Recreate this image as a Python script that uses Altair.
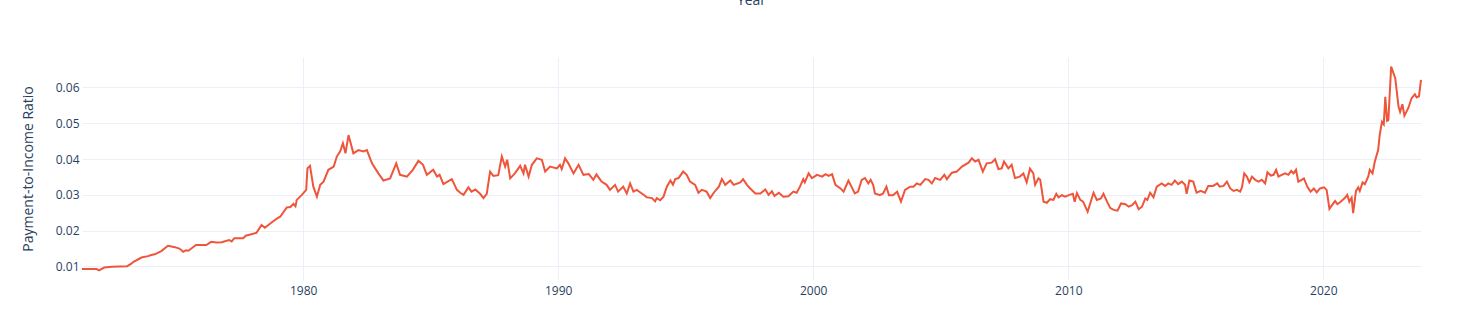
import altair as alt
import pandas as pd

years = [
    1971.33, 1971.6, 1971.9, 1972.0, 1972.2, 1972.5, 1972.8, 1973.1, 1973.25, 1973.35,
    1973.66, 1973.92, 1974.05, 1974.18, 1974.44, 1974.7, 1974.97, 1975.15, 1975.3, 1975.4,
    1975.5, 1975.8, 1976.2, 1976.4, 1976.6, 1976.8, 1977.1, 1977.2, 1977.3, 1977.65,
    1977.75, 1978.17, 1978.37, 1978.5, 1978.8,
    1979.0, 1979.1, 1979.36, 1979.5, 1979.62, 1979.7, 1979.75, 1979.95, 1980.12, 1980.17,
    1980.27, 1980.4, 1980.54, 1980.67, 1980.8, 1980.99, 1981.2, 1981.32, 1981.45, 1981.56,
    1981.66, 1981.78, 1981.97, 1982.17, 1982.36, 1982.5, 1982.7, 1982.95, 1983.15, 1983.41,
    1983.65, 1983.8, 1984.07, 1984.3, 1984.52, 1984.7, 1984.85, 1985.1, 1985.25, 1985.35,
    1985.5, 1985.83, 1986.03,
    1986.16, 1986.29, 1986.48, 1986.6, 1986.75, 1986.94, 1987.07, 1987.2, 1987.33, 1987.46,
    1987.65, 1987.79, 1987.92, 1988.0, 1988.12, 1988.3, 1988.51, 1988.64, 1988.7, 1988.84,
    1988.97, 1989.16, 1989.36, 1989.49, 1989.68, 1989.95, 1990.07, 1990.14, 1990.27, 1990.4,
    1990.6, 1990.8, 1990.99, 1991.2, 1991.38, 1991.5, 1991.7, 1991.9, 1992.03, 1992.23,
    1992.35, 1992.55, 1992.69, 1992.82, 1992.95, 1993.08, 1993.28, 1993.48, 1993.68, 1993.8,
    1993.87, 1994.0, 1994.13, 1994.26, 1994.4, 1994.5, 1994.59, 1994.72, 1994.9, 1995.04,
    1995.17, 1995.37, 1995.5, 1995.63, 1995.82, 1995.96, 1996.1, 1996.3, 1996.42, 1996.55,
    1996.75, 1996.88, 1997.14, 1997.25, 1997.4, 1997.53, 1997.73, 1997.93, 1998.12, 1998.25,
    1998.38, 1998.48, 1998.65, 1998.83, 1999.03, 1999.22, 1999.35, 1999.48, 1999.61, 1999.67,
    1999.82, 1999.95, 2000.15, 2000.35, 2000.48, 2000.6, 2000.74, 2000.87, 2001.07, 2001.19,
    2001.38, 2001.5, 2001.63, 2001.76, 2001.9, 2002.03, 2002.16, 2002.25, 2002.35, 2002.42,
    2002.61, 2002.74, 2002.87, 2002.97, 2003.13, 2003.29, 2003.44, 2003.6, 2003.8, 2003.93,
    2004.06, 2004.2, 2004.39, 2004.52, 2004.65, 2004.78, 2004.98, 2005.14, 2005.24, 2005.44,
    2005.63, 2005.83, 2006.09, 2006.22, 2006.35, 2006.48, 2006.65, 2006.8, 2007.0, 2007.13,
    2007.26, 2007.39, 2007.48, 2007.65, 2007.78, 2007.91, 2008.1, 2008.24, 2008.37, 2008.5,
    2008.63, 2008.7, 2008.83, 2008.9,
    2009.03, 2009.16, 2009.29, 2009.42, 2009.53, 2009.62, 2009.75, 2009.88, 2010.05, 2010.18,
    2010.25, 2010.34, 2010.47, 2010.58, 2010.67, 2010.76, 2010.86, 2010.99, 2011.12, 2011.28,
    2011.38, 2011.52, 2011.65, 2011.78, 2011.93, 2012.07, 2012.24, 2012.37, 2012.5, 2012.63,
    2012.76, 2012.89, 2013.02, 2013.1, 2013.21, 2013.34, 2013.47, 2013.66, 2013.8, 2013.92,
    2014.05, 2014.18, 2014.31, 2014.45, 2014.58, 2014.64, 2014.75, 2014.9, 2015.03, 2015.19,
    2015.36, 2015.49, 2015.68, 2015.84, 2015.94,
    2016.09, 2016.22, 2016.35, 2016.48, 2016.61, 2016.74, 2016.81, 2016.9, 2017.0, 2017.1,
    2017.2, 2017.33, 2017.46, 2017.59, 2017.72, 2017.81, 2017.94, 2018.05, 2018.15, 2018.24,
    2018.37, 2018.5, 2018.63, 2018.74, 2018.83, 2018.93, 2019.02, 2019.15, 2019.24, 2019.37,
    2019.5, 2019.63, 2019.74, 2019.87, 2020.03, 2020.13, 2020.24, 2020.37, 2020.46, 2020.55,
    2020.68, 2020.85, 2020.94, 2021.02, 2021.11, 2021.17, 2021.28, 2021.37, 2021.43, 2021.54,
    2021.63, 2021.76, 2021.82, 2021.93, 2022.02, 2022.15, 2022.21, 2022.3, 2022.37, 2022.43,
    2022.5, 2022.55, 2022.66, 2022.82, 2022.95, 2023.01, 2023.1, 2023.18, 2023.33, 2023.46,
    2023.59, 2023.66, 2023.75, 2023.83,
]

ratio = [
    0.0093, 0.0093, 0.0093, 0.0089, 0.0097, 0.0099, 0.0100, 0.0101, 0.0107, 0.0113,
    0.0125, 0.0129, 0.0132, 0.0134, 0.0143, 0.0158, 0.0154, 0.0150, 0.0141, 0.0145,
    0.0144, 0.0160, 0.0160, 0.0169, 0.0167, 0.0168, 0.0174, 0.0170, 0.0179, 0.0179,
    0.0186, 0.0194, 0.0216, 0.0208, 0.0225,
    0.0235, 0.0239, 0.0265, 0.0266, 0.0275, 0.0268, 0.0286, 0.0300, 0.0314, 0.0374,
    0.0381, 0.0323, 0.0295, 0.0328, 0.0337, 0.0370, 0.0379, 0.0407, 0.0421, 0.0444,
    0.0416, 0.0467, 0.0416, 0.0425, 0.0421, 0.0425, 0.0388, 0.0360, 0.0340, 0.0346,
    0.0388, 0.0356, 0.0351, 0.0370, 0.0395, 0.0384, 0.0356, 0.0370, 0.0351, 0.0356,
    0.0330, 0.0344, 0.0314,
    0.0306, 0.0300, 0.0321, 0.0309, 0.0315, 0.0303, 0.0291, 0.0303, 0.0365, 0.0353,
    0.0355, 0.0407, 0.0379, 0.0398, 0.0346, 0.0360, 0.0381, 0.0360, 0.0384, 0.0351,
    0.0384, 0.0402, 0.0398, 0.0365, 0.0379, 0.0374, 0.0384, 0.0372, 0.0402, 0.0388,
    0.0360, 0.0384, 0.0356, 0.0358, 0.0342, 0.0357, 0.0337, 0.0328, 0.0314, 0.0328,
    0.0309, 0.0323, 0.0304, 0.0332, 0.0309, 0.0314, 0.0304, 0.0293, 0.0291, 0.0282,
    0.0291, 0.0285, 0.0295, 0.0323, 0.0340, 0.0328, 0.0344, 0.0347, 0.0365, 0.0356,
    0.0337, 0.0328, 0.0306, 0.0314, 0.0309, 0.0291, 0.0306, 0.0323, 0.0344, 0.0328,
    0.0340, 0.0328, 0.0335, 0.0344, 0.0328, 0.0318, 0.0304, 0.0304, 0.0315, 0.0300,
    0.0310, 0.0297, 0.0306, 0.0295, 0.0296, 0.0309, 0.0306, 0.0323, 0.0344, 0.0335,
    0.0360, 0.0347, 0.0356, 0.0351, 0.0358, 0.0353, 0.0358, 0.0328, 0.0318, 0.0309,
    0.0340, 0.0323, 0.0304, 0.0309, 0.0342, 0.0347, 0.0332, 0.0342, 0.0328, 0.0304,
    0.0299, 0.0304, 0.0323, 0.0299, 0.0299, 0.0309, 0.0281, 0.0314, 0.0323, 0.0323,
    0.0332, 0.0328, 0.0344, 0.0342, 0.0332, 0.0347, 0.0342, 0.0356, 0.0344, 0.0362,
    0.0365, 0.0379, 0.0390, 0.0402, 0.0393, 0.0398, 0.0365, 0.0388, 0.0390, 0.0400,
    0.0372, 0.0374, 0.0393, 0.0374, 0.0384, 0.0347, 0.0351, 0.0360, 0.0335, 0.0373,
    0.0360, 0.0328, 0.0346, 0.0342,
    0.0281, 0.0278, 0.0288, 0.0286, 0.0303, 0.0293, 0.0299, 0.0295, 0.0300, 0.0303,
    0.0281, 0.0305, 0.0286, 0.0281, 0.0267, 0.0253, 0.0276, 0.0306, 0.0286, 0.0290,
    0.0303, 0.0281, 0.0263, 0.0258, 0.0256, 0.0276, 0.0274, 0.0267, 0.0271, 0.0281,
    0.0260, 0.0267, 0.0290, 0.0286, 0.0306, 0.0293, 0.0323, 0.0332, 0.0325, 0.0332,
    0.0328, 0.0340, 0.0330, 0.0337, 0.0328, 0.0303, 0.0340, 0.0337, 0.0306, 0.0311,
    0.0306, 0.0325, 0.0325, 0.0332, 0.0323,
    0.0325, 0.0337, 0.0318, 0.0311, 0.0314, 0.0309, 0.0321, 0.0360, 0.0351, 0.0335,
    0.0351, 0.0342, 0.0337, 0.0342, 0.0332, 0.0363, 0.0354, 0.0356, 0.0370, 0.0351,
    0.0356, 0.0360, 0.0356, 0.0367, 0.0360, 0.0370, 0.0337, 0.0342, 0.0346, 0.0323,
    0.0309, 0.0318, 0.0307, 0.0318, 0.0321, 0.0314, 0.0261, 0.0274, 0.0283, 0.0274,
    0.0281, 0.0292, 0.0300, 0.0281, 0.0292, 0.0249, 0.0311, 0.0321, 0.0311, 0.0335,
    0.0330, 0.0351, 0.0370, 0.0360, 0.0393, 0.0425, 0.0467, 0.0504, 0.0497, 0.0574,
    0.0507, 0.0509, 0.0658, 0.0626, 0.0546, 0.0532, 0.0553, 0.0521, 0.0542, 0.0570,
    0.0581, 0.0572, 0.0575, 0.0621,
]

x_ticks = [1980, 1990, 2000, 2010, 2020]
y_ticks = [0.01, 0.02, 0.03, 0.04, 0.05, 0.06]

df = pd.DataFrame({"Year": years, "Ratio": ratio})

FONT = "Open Sans"
TXT = "#2a3f5f"
GRID = "#ebf0f8"

W, H = 1339, 223

line = alt.Chart(df).mark_line(color="#EF553B", strokeWidth=2).encode(
    x=alt.X(
        "Year:Q",
        scale=alt.Scale(domain=[1971.33, 2023.83], nice=False, zero=False),
        axis=alt.Axis(
            values=x_ticks, format="d", title=None, ticks=False, domain=False,
            grid=True, gridColor=GRID, labelFont=FONT, labelFontSize=12,
            labelColor=TXT, labelPadding=5,
        ),
    ),
    y=alt.Y(
        "Ratio:Q",
        scale=alt.Scale(domain=[0.00623, 0.0685], nice=False, zero=False),
        axis=alt.Axis(
            values=y_ticks, format=".2f", title="Payment-to-Income Ratio",
            ticks=False, domain=False, grid=True, gridColor=GRID,
            labelFont=FONT, labelFontSize=12, labelColor=TXT, labelPadding=3,
            titleFont=FONT, titleFontSize=14, titleColor=TXT, titleFontWeight="normal",
            titleX=-54, titleY=H / 2, titleAngle=270, titleAlign="center",
            titleBaseline="middle",
        ),
    ),
)

top_label = alt.Chart(pd.DataFrame({"t": ["Year"]})).mark_text(
    font=FONT, fontSize=14, color=TXT, align="center", baseline="alphabetic"
).encode(x=alt.value(W / 2), y=alt.value(-52), text="t:N")

chart = (
    alt.layer(line, top_label)
    .properties(
        width=W,
        height=H,
        title=alt.TitleParams(
            "Payment-to-Income Ratio", font=FONT, fontSize=16, color=TXT,
            fontWeight="normal", anchor="middle", offset=5,
        ),
        autosize=alt.AutoSizeParams(type="none"),
        padding={"left": 82, "top": 57, "right": 55, "bottom": 44},
        background="white",
    )
    .configure_view(strokeWidth=0)
)

chart.save("out.html", embed_options={"renderer": "svg", "actions": False})
